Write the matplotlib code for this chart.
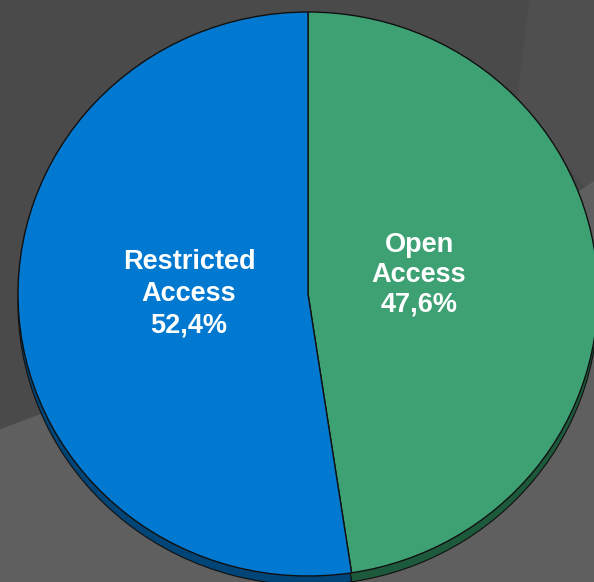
import matplotlib
matplotlib.use("Agg")
import matplotlib.pyplot as plt
from matplotlib.patches import Polygon

labels = ["Open\nAccess", "Restricted\nAccess"]
shares = [47.6, 52.4]
top_colors = ["#3da174", "#0179d0"]
side_colors = ["#1d5a3c", "#004578"]

W, H = 594, 582
fig = plt.figure(figsize=(W / 100, H / 100), dpi=100)

# background "room" drawn in pixel coordinates
bg = fig.add_axes([0, 0, 1, 1])
bg.set_xlim(0, W)
bg.set_ylim(H, 0)
bg.axis("off")
bg.add_patch(Polygon([(0, 0), (W, 0), (W, H), (0, H)], color="#4a4a4a"))
bg.add_patch(Polygon([(530, 0), (W, 0), (W, 182), (585, 188), (518, 100)],
                     color="#4f4f4f"))
bg.add_patch(Polygon([(0, 430), (45, 413), (400, 300), (585, 188), (W, 182),
                      (W, H), (0, H)], color="#5f5f5f"))

# pie as an ellipse: centre and radii in pixels
cx, cy, rx, ry = 308, 294, 290, 282
ax = fig.add_axes([(cx - rx) / W, 1 - (cy + ry) / H, 2 * rx / W, 2 * ry / H])
ax.set_xlim(-1, 1)
ax.set_ylim(-1, 1)

depth = 9 / ry
ax.pie(shares, colors=side_colors, startangle=90, counterclock=False,
       center=(0, -depth), frame=True,
       wedgeprops=dict(edgecolor="#101010", linewidth=0.8))
ax.pie(shares, colors=top_colors, startangle=90, counterclock=False,
       center=(0, 0), frame=True,
       wedgeprops=dict(edgecolor="#101010", linewidth=1.0))
ax.set_aspect("auto")
ax.set_xlim(-1, 1)
ax.set_ylim(-1, 1)
ax.axis("off")

text_pos = [(0.383, 0.068), (-0.41, 0.0)]
spacing = [1.2, 1.28]
for lab, val, (tx, ty), ls in zip(labels, shares, text_pos, spacing):
    txt = f"{lab}\n{val:.1f}%".replace(".", ",")
    ax.text(tx, ty, txt, ha="center", va="center", color="white",
            fontsize=19.5, fontweight="bold", family="Liberation Sans",
            linespacing=ls)

fig.savefig("out.png", dpi=100)
